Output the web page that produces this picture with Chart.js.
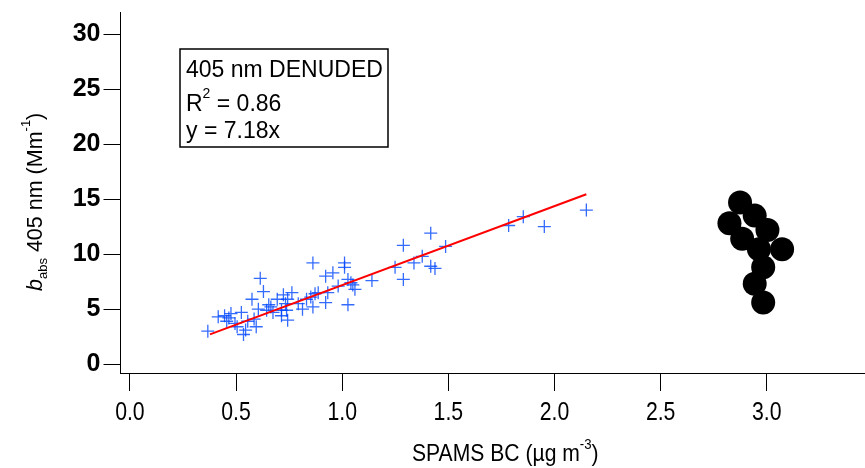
<!DOCTYPE html>
<html lang="en">
<head>
  <meta charset="UTF-8">
  <title>405 nm denuded absorption vs SPAMS BC</title>
  <script src="https://cdn.jsdelivr.net/npm/chart.js"></script>
  <style>
    body { margin: 0; padding: 0; background: #fff; }
    #wrap { width: 865px; height: 468px; }
  </style>
</head>
<body>
  <div id="wrap"><canvas id="absChart"></canvas></div>

  <script>
    // denuded samples (SPAMS BC, b_abs 405 nm)
    const spamsBC = [0.367, 0.416, 0.446, 0.456, 0.466, 0.476, 0.495, 0.505, 0.525, 0.535, 0.545, 0.555, 0.575, 0.585,
      0.595, 0.605, 0.614, 0.629, 0.644, 0.654, 0.664, 0.674, 0.694, 0.714, 0.714, 0.723, 0.733, 0.738, 0.743, 0.743,
      0.763, 0.793, 0.813, 0.832, 0.852, 0.862, 0.862, 0.872, 0.887, 0.922, 0.922, 0.932, 0.956, 0.981, 1.011, 1.011,
      1.027, 1.027, 1.041, 1.050, 1.060, 1.140, 1.249, 1.288, 1.288, 1.338, 1.377, 1.417, 1.417, 1.437, 1.487, 1.784,
      1.853, 1.952, 2.150];
    const babs = [3.0, 4.3, 4.4, 3.9, 4.2, 4.6, 3.7, 3.4, 4.7, 2.7, 3.1, 3.9, 5.9, 4.1,
      3.4, 5.0, 7.8, 6.6, 4.9, 5.4, 5.2, 4.7, 5.9, 4.4, 4.9, 6.3, 5.5, 4.9, 4.0, 5.9,
      6.5, 5.5, 5.0, 5.9, 6.1, 9.2, 5.2, 6.4, 6.5, 5.6, 8.0, 6.5, 8.3, 7.1, 8.8, 9.2,
      7.7, 5.4, 7.4, 7.2, 6.8, 7.6, 8.8, 7.7, 10.8, 9.2, 9.8, 11.9, 8.9, 8.7, 10.7, 12.6,
      13.4, 12.5, 14.0];

    // fit line y = 7.18x
    const fitX = [0.377, 2.150];
    const fitY = [2.71, 15.44];

    // separate cluster of black markers
    const otherX = [2.874, 2.824, 2.943, 3.003, 2.884, 2.963, 3.072, 2.983, 2.943, 2.983];
    const otherY = [14.7, 12.8, 13.5, 12.2, 11.4, 10.45, 10.45, 8.8, 7.3, 5.6];

    const boxLines = ['405 nm DENUDED', 'R', ' = 0.86', 'y = 7.18x'];

    function pts(xs, ys) {
      return xs.map((x, i) => ({ x: x, y: ys[i] }));
    }

    // draws runs of text with different fonts / vertical offsets, left to right
    function drawRuns(ctx, runs, x, y) {
      runs.forEach(r => {
        ctx.font = r.font;
        ctx.fillText(r.text, x, y + (r.dy || 0));
        x += ctx.measureText(r.text).width;
      });
      return x;
    }

    const SANS = '"Liberation Sans", Arial, sans-serif';
    const NARROW = 0.85;  // horizontal squeeze to mimic Arial Narrow

    const textPlugin = {
      id: 'textPlugin',
      afterDraw(chart) {
        const ctx = chart.ctx;
        const area = chart.chartArea;
        ctx.save();
        ctx.fillStyle = '#000';
        ctx.textAlign = 'left';
        ctx.textBaseline = 'alphabetic';

        // x axis line runs on to the canvas edge
        ctx.strokeStyle = '#000';
        ctx.lineWidth = 1;
        ctx.beginPath();
        ctx.moveTo(area.right - 1, Math.round(area.bottom) + 0.5);
        ctx.lineTo(chart.width, Math.round(area.bottom) + 0.5);
        ctx.stroke();

        // annotation box
        ctx.lineWidth = 1.5;
        ctx.strokeRect(180, 49, 208, 98);
        const f = '23px ' + SANS;
        const fs = '14px ' + SANS;
        drawRuns(ctx, [{ text: boxLines[0], font: f }], 186, 77);
        drawRuns(ctx, [{ text: boxLines[1], font: f }, { text: '2', font: fs, dy: -13 }, { text: boxLines[2], font: f }], 186, 111);
        drawRuns(ctx, [{ text: boxLines[3], font: f }], 186, 138);

        // x tick labels, condensed
        const xs = chart.scales.x;
        ctx.font = '25px ' + SANS;
        ctx.textAlign = 'center';
        xs.ticks.forEach(t => {
          ctx.save();
          ctx.translate(xs.getPixelForValue(t.value), 420);
          ctx.scale(NARROW, 1);
          ctx.fillText(t.value.toFixed(1), 0, 0);
          ctx.restore();
        });
        ctx.textAlign = 'left';

        // x axis title, condensed
        ctx.save();
        ctx.translate(412, 461);
        ctx.scale(0.88, 1);
        drawRuns(ctx, [
          { text: 'SPAMS BC (\u00b5g m', font: '24px ' + SANS },
          { text: '-3', font: '15px ' + SANS, dy: -12 },
          { text: ')', font: '24px ' + SANS }
        ], 0, 0);
        ctx.restore();

        // y axis title, rotated
        ctx.translate(42, 291);
        ctx.rotate(-Math.PI / 2);
        const fy = '21.5px ' + SANS;
        const fys = '13px ' + SANS;
        drawRuns(ctx, [
          { text: 'b', font: 'italic 21.5px ' + SANS },
          { text: 'abs', font: fys, dy: 5 },
          { text: ' 405 nm (Mm', font: fy },
          { text: '-1', font: fys, dy: -12 },
          { text: ')', font: fy }
        ], 0, 0);
        ctx.restore();
      }
    };

    const ctx = document.getElementById('absChart').getContext('2d');
    new Chart(ctx, {
      type: 'scatter',
      data: {
        datasets: [
          {
            label: 'denuded',
            data: pts(spamsBC, babs),
            pointStyle: 'cross',
            pointRadius: 6.5,
            pointHoverRadius: 6.5,
            borderColor: 'rgba(0, 70, 255, 0.8)',
            borderWidth: 1.3,
            order: 2
          },
          {
            label: 'fit',
            type: 'line',
            data: pts(fitX, fitY),
            borderColor: '#ff0000',
            borderWidth: 2,
            pointRadius: 0,
            fill: false,
            order: 1
          },
          {
            label: 'other',
            data: pts(otherX, otherY),
            pointStyle: 'circle',
            pointRadius: 12,
            pointHoverRadius: 12,
            backgroundColor: '#000',
            borderWidth: 0,
            order: 0
          }
        ]
      },
      options: {
        responsive: true,
        maintainAspectRatio: false,
        animation: false,
        layout: { padding: { top: 9, right: 0, left: 0, bottom: 0 } },
        scales: {
          x: {
            type: 'linear',
            min: -0.0443,
            max: 3.406,
            afterFit: s => { s.height = 95; s.paddingLeft = 0; s.paddingRight = 0; },
            ticks: { stepSize: 0.5, includeBounds: false, display: false },
            grid: { drawOnChartArea: false, drawTicks: true, tickLength: 18, color: '#000' },
            border: { color: '#000', width: 1 }
          },
          y: {
            min: -0.8,
            max: 32,
            afterFit: s => { s.width = 120.5; s.paddingTop = 0; s.paddingBottom = 0; },
            ticks: {
              stepSize: 5,
              includeBounds: false,
              padding: 3,
              color: '#000',
              font: { family: SANS, size: 25, weight: 'bold' }
            },
            grid: { drawOnChartArea: false, drawTicks: true, tickLength: 17, color: '#000' },
            border: { color: '#000', width: 1 }
          }
        },
        plugins: {
          legend: { display: false },
          tooltip: { enabled: false }
        }
      },
      plugins: [textPlugin]
    });
  </script>
</body>
</html>
